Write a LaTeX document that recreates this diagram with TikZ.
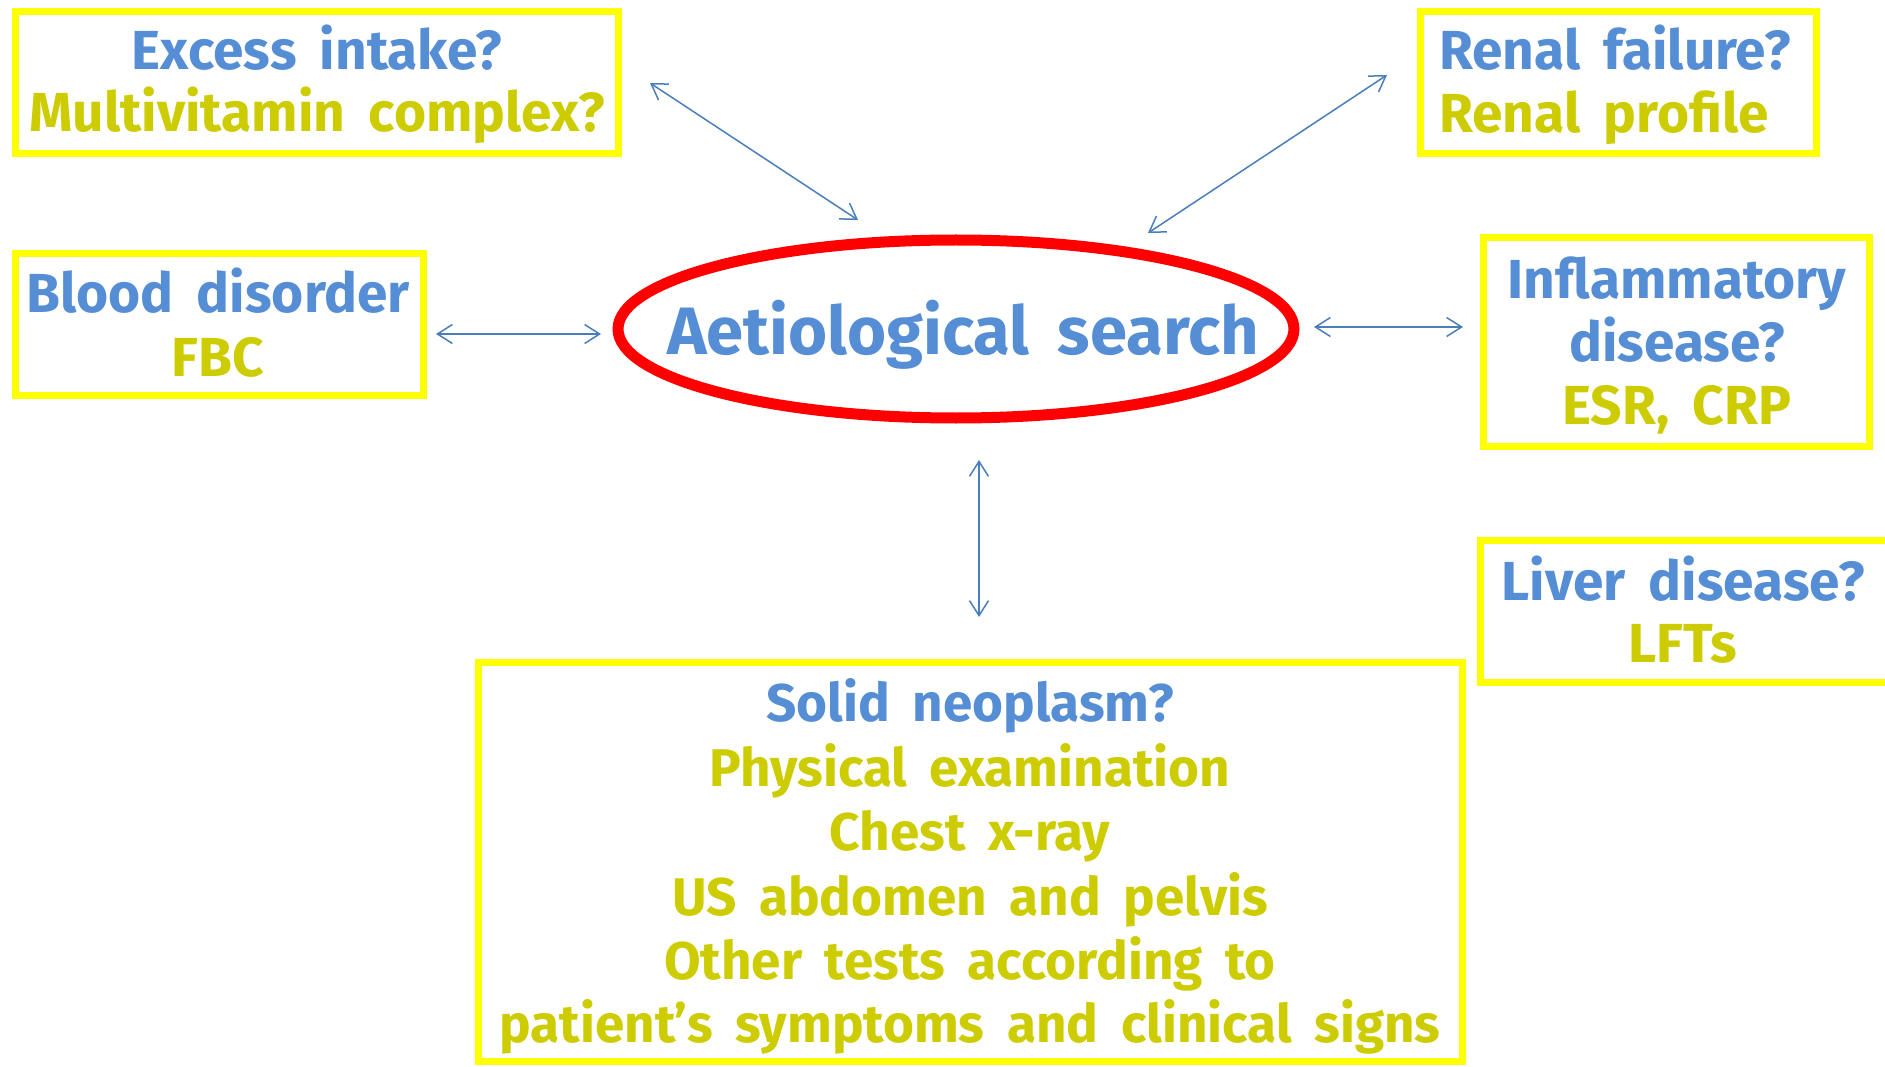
\documentclass[tikz,border=0pt]{standalone}
\usepackage{fontspec}
\setmainfont{Fira Sans}[WordSpace=1.8]
\usetikzlibrary{arrows.meta,shapes.geometric}
\definecolor{tblue}{RGB}{85,142,213}
\definecolor{tyel}{RGB}{204,204,0}
\definecolor{byel}{RGB}{255,255,0}
\definecolor{ared}{RGB}{255,0,0}
\definecolor{aline}{RGB}{74,126,187}
\begin{document}
\begin{tikzpicture}[x=1pt,y=-1pt,
  box/.style={draw=byel, line width=7pt, rectangle, inner sep=0pt, fill=none},
  tb/.style={text=tblue, font=\bfseries\fontsize{55}{65}\selectfont, anchor=base, inner sep=0pt},
  ty/.style={text=tyel, font=\bfseries\fontsize{55}{65}\selectfont, anchor=base, inner sep=0pt},
  tbs/.style={tb, font=\bfseries\fontsize{53}{63}\selectfont},
  tys/.style={ty, font=\bfseries\fontsize{53}{63}\selectfont},
  conn/.style={draw=aline, line width=1.5pt, {Straight Barb[length=15pt,width=19pt]}-{Straight Barb[length=15pt,width=19pt]}}
]
\useasboundingbox (0,0) rectangle (1885,1067);
\fill[white] (0,0) rectangle (1885,1067);

% boxes
\node[box, minimum width=603pt, minimum height=142pt] (boxA) at (317,82.5) {};
\node[box, minimum width=396pt, minimum height=142pt] (boxB) at (1618.5,82.5) {};
\node[box, minimum width=408pt, minimum height=142pt] (boxC) at (219.5,324.5) {};
\node[box, minimum width=386pt, minimum height=209pt] (boxD) at (1676.5,342) {};
\node[box, minimum width=414.5pt, minimum height=142pt] (boxE) at (1687.75,611.5) {};
\node[box, minimum width=984pt, minimum height=399pt] (boxF) at (970.5,862) {};
\node[draw=ared, line width=11pt, ellipse, inner sep=0pt, minimum width=676pt, minimum height=178pt] (ell) at (956,329) {};

% texts
\node[tb] (tA1) at (317,70) {Excess intake?};
\node[ty] (tA2) at (317,132) {Multivitamin complex?};
\node[tb, anchor=base west] (tB1) at (1439,70) {Renal failure?};
\node[ty, anchor=base west] (tB2) at (1439,133) {Renal profile};
\node[tb] (tC1) at (218,313) {Blood disorder};
\node[ty] (tC2) at (218,376) {FBC};
\node[tb] (tD1) at (1677,299) {Inflammatory};
\node[tb] (tD2) at (1677,361) {disease?};
\node[ty] (tD3) at (1677,424) {ESR, CRP};
\node[tb] (tE1) at (1683,600) {Liver disease?};
\node[ty] (tE2) at (1683,662) {LFTs};
\node[tb, font=\bfseries\fontsize{67}{77}\selectfont] (tM) at (963,355) {Aetiological search};
\node[tbs] (tF1) at (970,721) {Solid neoplasm?};
\node[tys] (tF2) at (970,786) {Physical examination};
\node[tys] (tF3) at (970,850) {Chest x-ray};
\node[tys] (tF4) at (970,915) {US abdomen and pelvis};
\node[tys] (tF5) at (970,979) {Other tests according to};
\node[tys] (tF6) at (970,1042) {patient’s symptoms and clinical signs};

% connector ends
\coordinate (a1) at (650,83);   \coordinate (a2) at (858,220);
\coordinate (b1) at (1387,75);  \coordinate (b2) at (1148,233);
\coordinate (c1) at (436,334);  \coordinate (c2) at (601,334);
\coordinate (d1) at (1314,327); \coordinate (d2) at (1463,327);
\coordinate (f1) at (979,460);  \coordinate (f2) at (979,617);
\draw[conn] (a1) -- (a2);
\draw[conn] (b1) -- (b2);
\draw[conn] (c1) -- (c2);
\draw[conn] (d1) -- (d2);
\draw[conn] (f1) -- (f2);
\end{tikzpicture}
\end{document}
